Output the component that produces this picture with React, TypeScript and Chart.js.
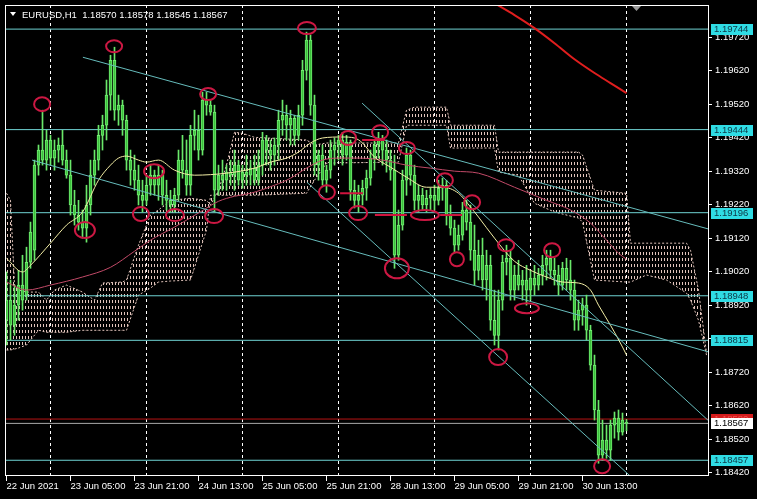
import React, { useEffect, useRef } from 'react';
import { Chart, registerables } from 'chart.js';

Chart.register(...registerables);

const FONT = 'Liberation Sans';
const symbolLabel = 'EURUSD,H1';

// H1 candles, bar 0 = 22 Jun 13:00
const candleOpen = [
  1.18875, 1.18935, 1.18860, 1.18920, 1.18980, 1.18950, 1.19048, 1.19084, 1.19338, 1.19383,
  1.19353, 1.19413, 1.19359, 1.19383, 1.19398, 1.19353, 1.19308, 1.19219, 1.19189, 1.19168,
  1.19150, 1.19219, 1.19308, 1.19353, 1.19427, 1.19457, 1.19547, 1.19651, 1.19502, 1.19517,
  1.19472, 1.19353, 1.19323, 1.19293, 1.19248, 1.19233, 1.19278, 1.19308, 1.19278, 1.19308,
  1.19248, 1.19233, 1.19219, 1.19248, 1.19353, 1.19323, 1.19278, 1.19427, 1.19442, 1.19383,
  1.19532, 1.19517, 1.19496, 1.19263, 1.19308, 1.19293, 1.19317, 1.19308, 1.19338, 1.19293,
  1.19317, 1.19308, 1.19329, 1.19293, 1.19338, 1.19413, 1.19383, 1.19368, 1.19398, 1.19472,
  1.19487, 1.19457, 1.19478, 1.19427, 1.19487, 1.19621, 1.19711, 1.19517, 1.19338, 1.19368,
  1.19293, 1.19323, 1.19383, 1.19398, 1.19413, 1.19368, 1.19407, 1.19263, 1.19233, 1.19248,
  1.19269, 1.19299, 1.19359, 1.19398, 1.19419, 1.19383, 1.19353, 1.19323, 1.19069, 1.19159,
  1.19293, 1.19368, 1.19308, 1.19233, 1.19248, 1.19219, 1.19239, 1.19248, 1.19233, 1.19269,
  1.19278, 1.19189, 1.19150, 1.19099, 1.19129, 1.19204, 1.19168, 1.19084, 1.19024, 1.19069,
  1.18995, 1.19039, 1.18875, 1.18830, 1.18935, 1.19048, 1.19060, 1.18965, 1.19010, 1.18980,
  1.18995, 1.18965, 1.19001, 1.18980, 1.19010, 1.19039, 1.19060, 1.19024, 1.19010, 1.18980,
  1.19030, 1.18995, 1.18965, 1.18875, 1.18905, 1.18920, 1.18845, 1.18741, 1.18607, 1.18472,
  1.18517, 1.18487, 1.18562, 1.18583, 1.18541, 1.18570,
];
const candleHigh = [
  1.19019, 1.18995, 1.18980, 1.19024, 1.19069, 1.19093, 1.19168, 1.19353, 1.19398, 1.19502,
  1.19442, 1.19427, 1.19413, 1.19419, 1.19442, 1.19383, 1.19353, 1.19263, 1.19233, 1.19204,
  1.19278, 1.19353, 1.19383, 1.19457, 1.19487, 1.19592, 1.19666, 1.19690, 1.19547, 1.19532,
  1.19487, 1.19383, 1.19368, 1.19338, 1.19293, 1.19308, 1.19338, 1.19323, 1.19338, 1.19323,
  1.19293, 1.19263, 1.19269, 1.19383, 1.19427, 1.19413, 1.19457, 1.19502, 1.19487, 1.19556,
  1.19556, 1.19532, 1.19517, 1.19338, 1.19353, 1.19338, 1.19353, 1.19383, 1.19353, 1.19338,
  1.19368, 1.19353, 1.19368, 1.19383, 1.19436, 1.19427, 1.19413, 1.19419, 1.19502, 1.19532,
  1.19517, 1.19502, 1.19487, 1.19517, 1.19651, 1.19735, 1.19726, 1.19547, 1.19383, 1.19398,
  1.19338, 1.19413, 1.19419, 1.19427, 1.19436, 1.19427, 1.19413, 1.19293, 1.19278, 1.19293,
  1.19323, 1.19383, 1.19413, 1.19436, 1.19427, 1.19413, 1.19383, 1.19368, 1.19204, 1.19323,
  1.19389, 1.19383, 1.19338, 1.19278, 1.19269, 1.19263, 1.19269, 1.19278, 1.19293, 1.19299,
  1.19293, 1.19219, 1.19174, 1.19159, 1.19227, 1.19233, 1.19219, 1.19159, 1.19114, 1.19120,
  1.19084, 1.19069, 1.18965, 1.18965, 1.19069, 1.19099, 1.19084, 1.19039, 1.19054, 1.19024,
  1.19039, 1.19024, 1.19039, 1.19030, 1.19069, 1.19084, 1.19084, 1.19060, 1.19039, 1.19048,
  1.19060, 1.19054, 1.18995, 1.18935, 1.18941, 1.18950, 1.18860, 1.18771, 1.18636, 1.18577,
  1.18562, 1.18577, 1.18601, 1.18607, 1.18598, 1.18578,
];
const candleLow = [
  1.18801, 1.18816, 1.18830, 1.18875, 1.18905, 1.18935, 1.19030, 1.19054, 1.19308, 1.19338,
  1.19323, 1.19338, 1.19323, 1.19347, 1.19338, 1.19299, 1.19189, 1.19159, 1.19144, 1.19120,
  1.19108, 1.19189, 1.19278, 1.19323, 1.19383, 1.19413, 1.19502, 1.19472, 1.19457, 1.19427,
  1.19323, 1.19278, 1.19263, 1.19219, 1.19198, 1.19219, 1.19248, 1.19248, 1.19233, 1.19219,
  1.19204, 1.19198, 1.19198, 1.19233, 1.19299, 1.19248, 1.19248, 1.19383, 1.19353, 1.19368,
  1.19487, 1.19487, 1.19198, 1.19248, 1.19263, 1.19263, 1.19278, 1.19263, 1.19278, 1.19269,
  1.19278, 1.19278, 1.19278, 1.19278, 1.19308, 1.19338, 1.19323, 1.19338, 1.19353, 1.19427,
  1.19413, 1.19398, 1.19398, 1.19413, 1.19457, 1.19592, 1.19487, 1.19308, 1.19293, 1.19278,
  1.19257, 1.19299, 1.19338, 1.19353, 1.19338, 1.19353, 1.19233, 1.19210, 1.19198, 1.19219,
  1.19233, 1.19278, 1.19323, 1.19359, 1.19338, 1.19317, 1.19293, 1.19030, 1.19054, 1.19144,
  1.19248, 1.19278, 1.19204, 1.19198, 1.19204, 1.19198, 1.19204, 1.19204, 1.19219, 1.19233,
  1.19159, 1.19129, 1.19078, 1.19084, 1.19114, 1.19144, 1.19054, 1.18980, 1.18995, 1.18965,
  1.18935, 1.18845, 1.18801, 1.18786, 1.18905, 1.19010, 1.18935, 1.18935, 1.18965, 1.18935,
  1.18920, 1.18935, 1.18950, 1.18965, 1.18980, 1.18995, 1.19001, 1.18980, 1.18950, 1.18965,
  1.18965, 1.18935, 1.18845, 1.18845, 1.18860, 1.18816, 1.18726, 1.18577, 1.18448, 1.18457,
  1.18463, 1.18457, 1.18523, 1.18517, 1.18532, 1.18545,
];
const candleClose = [
  1.18935, 1.18860, 1.18920, 1.18980, 1.18935, 1.19048, 1.19138, 1.19338, 1.19383, 1.19353,
  1.19413, 1.19359, 1.19383, 1.19398, 1.19353, 1.19308, 1.19219, 1.19189, 1.19168, 1.19150,
  1.19219, 1.19308, 1.19353, 1.19427, 1.19457, 1.19547, 1.19651, 1.19502, 1.19517, 1.19472,
  1.19353, 1.19323, 1.19293, 1.19248, 1.19233, 1.19278, 1.19308, 1.19278, 1.19308, 1.19248,
  1.19233, 1.19219, 1.19248, 1.19353, 1.19323, 1.19278, 1.19427, 1.19442, 1.19383, 1.19532,
  1.19517, 1.19496, 1.19263, 1.19308, 1.19293, 1.19317, 1.19308, 1.19338, 1.19293, 1.19317,
  1.19308, 1.19329, 1.19293, 1.19338, 1.19413, 1.19383, 1.19368, 1.19398, 1.19472, 1.19487,
  1.19457, 1.19478, 1.19427, 1.19487, 1.19621, 1.19711, 1.19517, 1.19338, 1.19368, 1.19293,
  1.19323, 1.19383, 1.19398, 1.19413, 1.19368, 1.19407, 1.19263, 1.19233, 1.19248, 1.19269,
  1.19299, 1.19359, 1.19398, 1.19419, 1.19383, 1.19353, 1.19323, 1.19069, 1.19159, 1.19293,
  1.19368, 1.19308, 1.19233, 1.19248, 1.19219, 1.19239, 1.19248, 1.19233, 1.19269, 1.19278,
  1.19189, 1.19150, 1.19099, 1.19129, 1.19204, 1.19168, 1.19084, 1.19024, 1.19069, 1.18995,
  1.19039, 1.18875, 1.18830, 1.18935, 1.19048, 1.19060, 1.18965, 1.19010, 1.18980, 1.18995,
  1.18965, 1.19001, 1.18980, 1.19010, 1.19039, 1.19060, 1.19024, 1.19010, 1.18980, 1.19030,
  1.18995, 1.18965, 1.18875, 1.18905, 1.18920, 1.18845, 1.18741, 1.18607, 1.18472, 1.18517,
  1.18487, 1.18562, 1.18583, 1.18541, 1.18577, 1.18567,
];

const xTickIdx = [0, 16, 32, 48, 64, 80, 96, 112, 128, 144];
const xTickLabels = [
  '22 Jun 2021', '23 Jun 05:00', '23 Jun 21:00', '24 Jun 13:00', '25 Jun 05:00',
  '25 Jun 21:00', '28 Jun 13:00', '29 Jun 05:00', '29 Jun 21:00', '30 Jun 13:00',
];
const yTickValues = [
  1.18420, 1.18520, 1.18620, 1.18720, 1.18820, 1.18920, 1.19020,
  1.19120, 1.19220, 1.19320, 1.19420, 1.19520, 1.19620, 1.19720,
];
const daySeparators = [11, 35, 59, 83, 107, 131, 155];
const levelPrices = [1.19744, 1.19444, 1.19196, 1.18948, 1.18815, 1.18457];
const askPrice = 1.18580;
const bidPrice = 1.18567;

// moving averages (vertex index, price)
const maYellowIdx = [0, 4, 6, 11, 15, 19, 23, 26, 28, 30, 33, 35, 38, 42, 47, 55, 62, 66, 70, 73, 76, 79, 84, 87, 89, 92, 96, 100, 105, 109, 113, 116, 118, 122, 127, 131, 135, 139, 143, 146, 148, 151, 154, 155];
const maYellowVal = [1.19060, 1.19019, 1.19039, 1.19105, 1.19159, 1.19198, 1.19293, 1.19338, 1.19359, 1.19365, 1.19353, 1.19347, 1.19353, 1.19323, 1.19308, 1.19314, 1.19329, 1.19347, 1.19359, 1.19377, 1.19404, 1.19419, 1.19422, 1.19419, 1.19404, 1.19362, 1.19332, 1.19302, 1.19272, 1.19272, 1.19254, 1.19213, 1.19183, 1.19120, 1.19051, 1.19024, 1.19004, 1.18989, 1.18986, 1.18965, 1.18920, 1.18860, 1.18795, 1.18771];
const maPinkIdx = [0, 5, 11, 19, 26, 32, 36, 42, 48, 53, 57, 61, 67, 71, 75, 79, 83, 88, 94, 100, 106, 112, 118, 127, 135, 141, 146, 150, 153, 155];
const maPinkVal = [1.18989, 1.18965, 1.18980, 1.19004, 1.19033, 1.19081, 1.19114, 1.19153, 1.19195, 1.19230, 1.19245, 1.19254, 1.19278, 1.19299, 1.19329, 1.19353, 1.19359, 1.19359, 1.19353, 1.19338, 1.19329, 1.19320, 1.19314, 1.19272, 1.19233, 1.19204, 1.19165, 1.19114, 1.19075, 1.19057];
const maRedIdx = [122, 127, 132, 137, 142, 147, 151, 155];
const maRedVal = [1.19821, 1.19786, 1.19747, 1.19702, 1.19654, 1.19613, 1.19583, 1.19553];

// Ichimoku cloud spans
const cloudIdx = [0, 1, 2, 3, 5, 8, 10, 12, 15, 19, 22, 24, 29, 30, 33, 36, 38, 41, 46, 50, 51, 53, 55, 57, 59, 62, 75, 77, 80, 98, 100, 102, 110, 111, 122, 123, 128, 132, 137, 143, 144, 147, 155, 156, 160, 165, 170, 171, 173, 175];
const cloudSpanA = [1.19254, 1.19233, 1.18980, 1.18965, 1.18959, 1.18959, 1.18935, 1.18965, 1.18980, 1.18959, 1.18935, 1.18986, 1.18989, 1.18995, 1.19099, 1.19189, 1.19204, 1.19233, 1.19239, 1.19233, 1.19219, 1.19263, 1.19338, 1.19436, 1.19433, 1.19421, 1.19413, 1.19398, 1.19404, 1.19404, 1.19502, 1.19511, 1.19511, 1.19457, 1.19457, 1.19377, 1.19377, 1.19377, 1.19377, 1.19377, 1.19368, 1.19263, 1.19254, 1.19105, 1.19105, 1.19105, 1.19105, 1.19084, 1.18965, 1.18777];
const cloudSpanB = [1.18786, 1.18786, 1.18789, 1.18792, 1.18801, 1.18845, 1.18839, 1.18839, 1.18839, 1.18845, 1.18845, 1.18845, 1.18845, 1.18845, 1.18950, 1.18971, 1.18989, 1.18992, 1.18995, 1.19144, 1.19248, 1.19248, 1.19248, 1.19248, 1.19248, 1.19248, 1.19254, 1.19293, 1.19344, 1.19347, 1.19457, 1.19457, 1.19457, 1.19389, 1.19389, 1.19317, 1.19308, 1.19224, 1.19198, 1.19180, 1.19168, 1.18995, 1.18989, 1.18989, 1.19010, 1.18995, 1.18956, 1.18935, 1.18875, 1.18771];

// trend lines
const trendStartIdx = [19.1, 6.4, 88.9, 75.1];
const trendStartPrice = [1.19660, 1.19353, 1.19523, 1.19287];
const trendEndIdx = [175.6, 175.6, 175.6, 156.75];
const trendEndPrice = [1.19147, 1.18780, 1.18574, 1.18401];

// short red support / resistance marks
const markStartIdx = [83.4, 88.9, 92.1, 108.4];
const markEndIdx = [89.1, 94.6, 100.1, 113.9];
const markPrice = [1.19254, 1.19413, 1.19189, 1.19189];

// circled swing points
const swingIdx = [8.9, 26.9, 19.6, 33.6, 36.9, 42.1, 50.4, 51.9, 75.1, 80.1, 85.4, 87.9, 93.4, 97.6, 100.1, 104.6, 109.6, 112.6, 116.4, 122.9, 124.9, 130.1, 136.4, 148.9];
const swingPrice = [1.19520, 1.19693, 1.19144, 1.19192, 1.19320, 1.19189, 1.19550, 1.19186, 1.19747, 1.19257, 1.19419, 1.19195, 1.19436, 1.19030, 1.19389, 1.19189, 1.19293, 1.19057, 1.19227, 1.18765, 1.19099, 1.18911, 1.19084, 1.18439];
const swingRx = [8, 8, 10, 8, 10, 9, 8, 9, 9, 8, 8, 9, 8, 12, 8, 14, 8, 7, 8, 9, 8, 12, 8, 8];
const swingRy = [7, 6, 8, 7, 7, 6, 6, 7, 6, 7, 7, 7, 7, 10, 6, 5, 7, 7, 7, 8, 6, 5, 7, 7];

const X_MIN = -0.375;
const X_MAX = 175.625;
const Y_MIN = 1.18410;
const Y_MAX = 1.19816;

export default function App() {
  const ref = useRef<HTMLCanvasElement>(null);

  useEffect(() => {
    document.body.style.margin = '0';
    document.body.style.background = '#000';
    const canvas = ref.current!;
    const pc = document.createElement('canvas');
    pc.width = 3;
    pc.height = 6;
    const pctx = pc.getContext('2d')!;
    pctx.fillStyle = '#e2c4bb';
    pctx.fillRect(1, 0, 1, 3);
    const pattern = canvas.getContext('2d')!.createPattern(pc, 'repeat');

    const idx = candleOpen.map((_, i) => i);
    const lineBase = { type: 'line' as const, pointRadius: 0, borderWidth: 1, fill: false, clip: 0 };

    const datasets: any[] = [];

    datasets.push({
      ...lineBase,
      data: cloudIdx.map((x, k) => ({ x, y: cloudSpanA[k] })),
      borderColor: '#e0c3ba',
      borderDash: [2, 2],
      backgroundColor: pattern,
      fill: '+1',
      order: 20,
    });
    datasets.push({
      ...lineBase,
      data: cloudIdx.map((x, k) => ({ x, y: cloudSpanB[k] })),
      borderColor: '#e0c3ba',
      borderDash: [2, 2],
      order: 19,
    });

    daySeparators.forEach((d) => {
      datasets.push({
        ...lineBase,
        data: [{ x: d, y: Y_MIN }, { x: d, y: Y_MAX }],
        borderColor: '#ffffff',
        borderDash: [3, 3],
        order: 18,
      });
    });

    levelPrices.forEach((p) => {
      datasets.push({
        ...lineBase,
        data: [{ x: X_MIN, y: p }, { x: X_MAX, y: p }],
        borderColor: '#6fd3d3',
        order: 17,
      });
    });
    datasets.push({
      ...lineBase,
      data: [{ x: X_MIN, y: askPrice }, { x: X_MAX, y: askPrice }],
      borderColor: '#b81414',
      order: 17,
    });
    datasets.push({
      ...lineBase,
      data: [{ x: X_MIN, y: bidPrice }, { x: X_MAX, y: bidPrice }],
      borderColor: '#a8a8a8',
      order: 17,
    });

    datasets.push({
      type: 'bar',
      data: idx.map((i) => ({ x: i, y: [candleLow[i], candleHigh[i]] })),
      backgroundColor: '#6ae86a',
      barThickness: 1,
      grouped: false,
      clip: 0,
      order: 10,
    });
    datasets.push({
      type: 'bar',
      data: idx.map((i) => ({ x: i, y: [candleOpen[i], candleClose[i]] })),
      backgroundColor: '#3cbf3c',
      borderColor: '#72ee72',
      borderWidth: 1,
      borderSkipped: false,
      barThickness: 3,
      grouped: false,
      clip: 0,
      order: 9,
    });

    datasets.push({
      ...lineBase,
      data: maPinkIdx.map((x, k) => ({ x, y: maPinkVal[k] })),
      borderColor: '#c24a68',
      cubicInterpolationMode: 'monotone',
      order: 6,
    });
    datasets.push({
      ...lineBase,
      data: maYellowIdx.map((x, k) => ({ x, y: maYellowVal[k] })),
      borderColor: '#f4efa6',
      cubicInterpolationMode: 'monotone',
      order: 5,
    });
    datasets.push({
      ...lineBase,
      data: maRedIdx.map((x, k) => ({ x, y: maRedVal[k] })),
      borderColor: '#e01e1e',
      borderWidth: 2,
      cubicInterpolationMode: 'monotone',
      order: 5,
    });

    trendStartIdx.forEach((s, k) => {
      datasets.push({
        ...lineBase,
        data: [{ x: s, y: trendStartPrice[k] }, { x: trendEndIdx[k], y: trendEndPrice[k] }],
        borderColor: '#66bcbc',
        order: 4,
      });
    });

    markStartIdx.forEach((s, k) => {
      datasets.push({
        ...lineBase,
        data: [{ x: s, y: markPrice[k] }, { x: markEndIdx[k], y: markPrice[k] }],
        borderColor: '#d0143e',
        borderWidth: 2,
        order: 3,
      });
    });

    const overlay = {
      id: 'overlay',
      afterDatasetsDraw(chart: any) {
        const { ctx, scales } = chart;
        const xs = scales.x;
        const ys = scales.y;
        const a = chart.chartArea;
        ctx.save();
        ctx.beginPath();
        ctx.rect(a.left, a.top, a.right - a.left, a.bottom - a.top);
        ctx.clip();
        ctx.strokeStyle = '#cc1843';
        ctx.lineWidth = 2;
        swingIdx.forEach((xi, k) => {
          const cx = xs.getPixelForValue(xi);
          const cy = ys.getPixelForValue(swingPrice[k]);
          ctx.beginPath();
          ctx.ellipse(cx, cy, swingRx[k], swingRy[k], 0, 0, Math.PI * 2);
          ctx.stroke();
        });
        ctx.restore();
      },
      afterDraw(chart: any) {
        const { ctx, chartArea: a, scales } = chart;
        const ys = scales.y;
        ctx.save();
        ctx.strokeStyle = '#ffffff';
        ctx.lineWidth = 1;
        ctx.strokeRect(a.left + 0.5, a.top + 0.5, a.right - a.left - 1, a.bottom - a.top - 1);

        ctx.font = `9.5px "${FONT}"`;
        ctx.textBaseline = 'middle';
        ctx.textAlign = 'left';
        const bx = a.right + 2;
        const box = (p: number, bg: string, fg: string) => {
          const py = Math.round(ys.getPixelForValue(p));
          ctx.fillStyle = bg;
          ctx.fillRect(bx, py - 5, 42, 11);
          ctx.fillStyle = fg;
          ctx.fillText(p.toFixed(5), bx + 3, py + 0.5);
        };
        levelPrices.forEach((p) => box(p, '#2fdce4', '#0c3645'));
        box(askPrice, '#d41c1c', '#f25050');
        box(bidPrice, '#ffffff', '#000000');

        const last = candleOpen.length - 1;
        ctx.fillStyle = '#ffffff';
        ctx.beginPath();
        ctx.moveTo(10, 12);
        ctx.lineTo(16, 12);
        ctx.lineTo(13, 16);
        ctx.closePath();
        ctx.fill();
        ctx.fillText(
          `${symbolLabel}  ${candleOpen[last].toFixed(5)} ${candleHigh[last].toFixed(5)} ${candleLow[last].toFixed(5)} ${candleClose[last].toFixed(5)}`,
          22,
          15
        );

        ctx.fillStyle = '#9a9a9a';
        ctx.beginPath();
        ctx.moveTo(632, 6);
        ctx.lineTo(641, 6);
        ctx.lineTo(636.5, 11);
        ctx.closePath();
        ctx.fill();
        ctx.restore();
      },
    };

    const chart = new Chart(canvas, {
      type: 'bar',
      data: { datasets },
      options: {
        animation: false,
        responsive: false,
        events: [],
        layout: { padding: { left: 5, top: 5, right: 0, bottom: 0 } },
        plugins: { legend: { display: false }, tooltip: { enabled: false } },
        scales: {
          x: {
            type: 'linear',
            min: X_MIN,
            max: X_MAX,
            offset: false,
            afterBuildTicks: (s: any) => {
              s.ticks = xTickIdx.map((v) => ({ value: v }));
            },
            afterFit: (s: any) => {
              s.height = 23;
              s.paddingLeft = 0;
              s.paddingRight = 0;
              s.paddingTop = 0;
              s.paddingBottom = 0;
            },
            ticks: {
              color: '#ffffff',
              font: { family: FONT, size: 9.5 },
              align: 'start',
              autoSkip: false,
              maxRotation: 0,
              padding: 0,
              callback: (_v: any, i: number) => xTickLabels[i] ?? '',
            },
            grid: { drawOnChartArea: false, drawTicks: true, tickLength: 5, color: '#ffffff', offset: false },
            border: { display: false },
          },
          y: {
            type: 'linear',
            position: 'right',
            min: Y_MIN,
            max: Y_MAX,
            beginAtZero: false,
            afterBuildTicks: (s: any) => {
              s.ticks = yTickValues.map((v) => ({ value: v }));
            },
            afterFit: (s: any) => {
              s.width = 48;
              s.paddingLeft = 0;
              s.paddingRight = 0;
              s.paddingTop = 0;
              s.paddingBottom = 0;
            },
            ticks: {
              color: '#ffffff',
              font: { family: FONT, size: 9.5 },
              padding: 3,
              callback: (v: any) => Number(v).toFixed(5),
            },
            grid: { drawOnChartArea: false, drawTicks: true, tickLength: 3, color: '#ffffff' },
            border: { display: false },
          },
        },
      } as any,
      plugins: [overlay],
    });
    return () => chart.destroy();
  }, []);

  return (
    <div style={{ width: 757, height: 499, background: '#000' }}>
      <canvas ref={ref} width={757} height={499} style={{ display: 'block' }} />
    </div>
  );
}
